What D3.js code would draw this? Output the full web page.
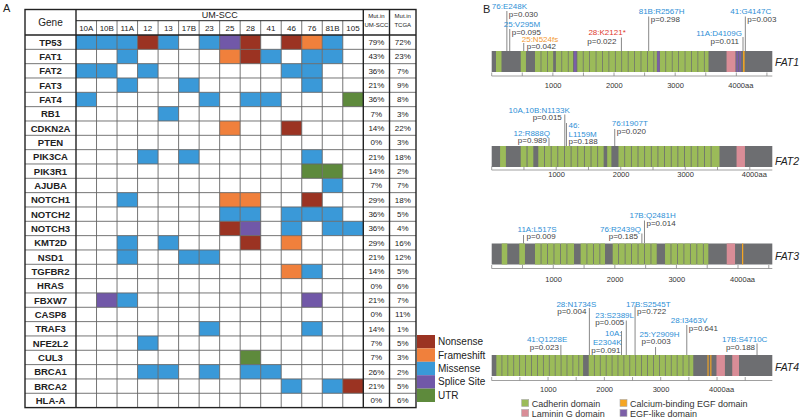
<!DOCTYPE html>
<html><head><meta charset="utf-8">
<script src="https://cdn.jsdelivr.net/npm/d3@7"></script>
<style>body{margin:0;background:#fff}svg{display:block;font-family:"Liberation Sans",Arial,sans-serif}</style>
</head><body><svg id="c" width="800" height="419"></svg>
<script>
// ---------------- DATA ----------------
const samples = ["10A","10B","11A","12","13","17B","23","25","28","41","46","76","81B","105"];
const genes = ["TP53","FAT1","FAT2","FAT3","FAT4","RB1","CDKN2A","PTEN","PIK3CA","PIK3R1","AJUBA","NOTCH1","NOTCH2","NOTCH3","KMT2D","NSD1","TGFBR2","HRAS","FBXW7","CASP8","TRAF3","NFE2L2","CUL3","BRCA1","BRCA2","HLA-A"];
// one string per gene, one character per sample (N nonsense, F frameshift, M missense, S splice site, U UTR, . none)
const mutRows = [
  "MMMNM.MSN.NFM.", "..M....FNM.MM.", "MM.M......MM..", "..M..M.....M..", "M.....M.MM...U",
  "....M.........", ".......F..N...", "..............", "...M.M.....M..", "...........UU.",
  "............M.", "..M....FF..N..", ".......MM.MMM.", ".......NS.M.MM", "..M.M...N.F...",
  "..M..MM.......", "..........FM..", "..............", ".SM........S..", "..............",
  "......M....M..", "...M..........", "........U.....", "...MM.M.MM....", "..........M.MN",
  ".............."
];
const pctUMSCC = ["79%","43%","36%","21%","36%","7%","14%","0%","21%","14%","7%","29%","36%","36%","29%","21%","14%","0%","21%","0%","14%","7%","7%","26%","21%","0%"];
const pctTCGA  = ["72%","23%","7%","9%","8%","3%","22%","3%","18%","2%","7%","18%","5%","4%","16%","12%","5%","6%","7%","11%","1%","5%","3%","2%","5%","6%"];
const mutCodes = ["N","F","M","S","U"];
const mutNames = ["Nonsense","Frameshift","Missense","Splice Site","UTR"];

const proteins = ["FAT1","FAT2","FAT3","FAT4"];
const proteinLength = [4588, 4349, 4557, 4981];
const cadherin = [
  [[70,160],[475,560],[708,800],[812,905],[917,1005],[1050,1140],[1152,1245],[1257,1330],[1400,1490],[1502,1595],[1607,1700],[1712,1805],[1817,1910],[1922,2015],[2027,2120],[2132,2225],[2237,2330],[2342,2435],[2447,2540],[2552,2645],[2657,2700],[2750,2840],[2852,2945],[2957,3050],[3062,3155],[3167,3260],[3272,3365],[3377,3470],[3482,3545]],
  [[130,220],[450,540],[555,645],[722,812],[825,915],[928,1018],[1031,1121],[1134,1224],[1237,1327],[1340,1430],[1443,1533],[1546,1636],[1649,1735],[1790,1855],[1965,2055],[2068,2158],[2171,2261],[2274,2364],[2377,2467],[2480,2570],[2583,2673],[2686,2776],[2789,2879],[2892,2982],[2995,3085],[3098,3188],[3201,3291],[3304,3394],[3407,3530]],
  [[163,253],[448,540],[703,795],[808,900],[913,1005],[1018,1110],[1123,1215],[1228,1337],[1445,1540],[1553,1645],[1658,1750],[1763,1840],[1965,2055],[2068,2160],[2173,2265],[2278,2370],[2383,2475],[2488,2580],[2593,2680],[2815,2905],[2918,3010],[3023,3115],[3128,3220],[3233,3325],[3338,3430],[3443,3518]],
  [[82,175],[188,280],[293,385],[398,490],[503,595],[608,700],[713,805],[818,910],[923,1015],[1028,1120],[1133,1225],[1238,1330],[1343,1435],[1448,1540],[1553,1622],[1722,1815],[1828,1920],[1933,2025],[2038,2130],[2143,2235],[2248,2340],[2353,2445],[2458,2550],[2563,2655],[2668,2760],[2773,2865],[2878,2970],[2983,3075],[3088,3180],[3193,3285],[3298,3390],[3403,3495],[3508,3578]]
];
const laminin = [[[3840,3985]], [[3795,3925]], [[3817,3952]], [[3990,4140],[4270,4390]]];
const egfLike = [[[1345,1385],[2705,2745],[4000,4030],[4045,4075]], [], [], []];
const caEgf = [[[4110,4135]], [], [[4065,4085]], [[3830,3850],[3880,3900]]];
const domainNames = ["Cadherin domain","Calcium-binding EGF domain","Laminin G domain","EGF-like domain"];

const variants = [
  [{label:"76:E248K",aa:248,p:"0.030",type:"M"},{label:"25:V295M",aa:295,p:"0.095",type:"M"},{label:"25:N524fs",aa:524,p:"0.042",type:"F"},{label:"28:K2121*",aa:2121,p:"0.022",type:"N"},{label:"81B:R2567H",aa:2567,p:"0.298",type:"M"},{label:"11A:D4109G",aa:4109,p:"0.011",type:"M"},{label:"41:G4147C",aa:4147,p:"0.003",type:"M"}],
  [{label:"10A,10B:N1133K",aa:1133,p:"0.015",type:"M"},{label:"12:R888Q",aa:888,p:"0.989",type:"M"},{label:"46:\nL1159M",aa:1159,p:"0.188",type:"M"},{label:"76:I1907T",aa:1907,p:"0.020",type:"M"}],
  [{label:"11A:L517S",aa:517,p:"0.009",type:"M"},{label:"76:R2439Q",aa:2439,p:"0.185",type:"M"},{label:"17B:Q2481H",aa:2481,p:"0.014",type:"M"}],
  [{label:"41:Q1228E",aa:1228,p:"0.023",type:"M"},{label:"28:N1734S",aa:1734,p:"0.004",type:"M"},{label:"23:S2389L",aa:2389,p:"0.005",type:"M"},{label:"10A:\nE2304K",aa:2304,p:"0.091",type:"M"},{label:"17B:S2545T",aa:2545,p:"0.722",type:"M"},{label:"25:Y2909H",aa:2909,p:"0.003",type:"M"},{label:"28:I3463V",aa:3463,p:"0.641",type:"M"},{label:"17B:S4710C",aa:4710,p:"0.188",type:"M"}]
];
const tickValues = [500,1000,1500,2000,2500,3000,3500,4000,4500];
const tickLabels = {1000:"1000",2000:"2000",3000:"3000",4000:"4000aa"};

// ---------------- LAYOUT / STYLE ----------------
// label layout per variant: [mutAnchor, mutDx, mutBaseline, pAnchor, pDx, pBaseline, lineTop]
const variantLayout = [
  [["start",-15,8.5,"start",2,16.5,11],["start",-6,27.3,"start",2,34.5,29],["start",-2,41.5,"start",3,48.5,43],["start",-33,35,"end",-5,44,37.5],["start",-10,14,"start",2,21.5,16.5],["end",-1,35.5,"end",-4,44,37],["start",-15,14,"start",2,21.5,16.5]],
  [["end",5,112.7,"end",-3,120,114.5],["end",1,136,"end",-2,143.3,138],["start",2,136.5,"start",2,143.5,123],["start",-3,126,"start",2,134,129]],
  [["start",-6,231.7,"start",3,239.3,235],["end",-1,231.7,"end",-4,239.3,233.5],["start",-15,217.7,"start",2,226,220.5]],
  [["start",-34,341.7,"end",-2,350,345],["start",-33,306.7,"end",-3,314.3,308],["start",-31,318.3,"end",-2,325.3,320.5],["end",0,345,"end",-1,352.7,331],["start",-9,306.7,"start",2,314.3,305.5],["start",-16,336.7,"start",-14,344.3,347],["start",-16,323.3,"start",2,331,325],["start",-35,341.7,"end",-2,350,343.5]]
];
const barTop = [51, 146, 243.5, 355];
const barH = 21;
const axisY = [76, 170, 268.5, 380.5];
const tickLabelY = [87.5, 177, 281.5, 391.5];
const nameY = [66, 164.5, 259.5, 370.5];

const colorMut = {N:"#9b3322",F:"#f0803c",M:"#3a99d8",S:"#7158a8",U:"#5e8a3c"};
const colorTxt = {N:"#e03a2e",F:"#f39a33",M:"#2e8fd6"};
const domainColors = ["#9bbb59","#f5a623","#d98d97","#7b5ea7"];

const svg = d3.select("#c");

// ---------------- PANEL A: table ----------------
const tL = 25, gR = 76, sR = 363.3, uR = 389.5, tR = 416;
const hTop = 9.5, hMid = 20.7, hBot = 35, tBot = 407.6;
const x = d3.scaleBand().domain(samples).range([gR, sR]);
const y = d3.scaleBand().domain(genes).range([hBot, tBot]);

svg.append("text").attr("x",3).attr("y",12).attr("font-size",11).attr("fill","#222").text("A");

// colored cells
const cells = [];
genes.forEach((g,i)=>{ samples.forEach((s,j)=>{ const c = mutRows[i][j]; if (c !== ".") cells.push({g,s,c}); }); });
svg.append("g").selectAll("rect").data(cells).join("rect")
  .attr("x",d=>x(d.s)).attr("y",d=>y(d.g)).attr("width",x.bandwidth()).attr("height",y.bandwidth())
  .attr("fill",d=>colorMut[d.c]);

// grid lines
const grid = svg.append("g").attr("stroke","#666").attr("stroke-width",0.9);
samples.forEach((s,j)=>{ if (j>0) grid.append("line").attr("x1",x(s)).attr("x2",x(s)).attr("y1",hMid).attr("y2",tBot); });
genes.forEach((g,i)=>{ if (i>0) grid.append("line").attr("x1",tL).attr("x2",tR).attr("y1",y(g)).attr("y2",y(g)); });
const thick = svg.append("g").attr("stroke","#222").attr("stroke-width",1.4).attr("fill","none");
thick.append("rect").attr("x",tL).attr("y",hTop).attr("width",tR-tL).attr("height",tBot-hTop);
[gR, sR, uR].forEach(v=>thick.append("line").attr("x1",v).attr("x2",v).attr("y1",hTop).attr("y2",tBot));
thick.append("line").attr("x1",tL).attr("x2",tR).attr("y1",hBot).attr("y2",hBot);
thick.append("line").attr("x1",gR).attr("x2",sR).attr("y1",hMid).attr("y2",hMid).attr("stroke-width",1);

// header text
svg.append("text").attr("x",(tL+gR)/2).attr("y",26).attr("text-anchor","middle").attr("font-size",10).attr("fill","#222").text("Gene");
svg.append("text").attr("x",(gR+sR)/2).attr("y",18.3).attr("text-anchor","middle").attr("font-size",9).attr("fill","#222").text("UM-SCC");
svg.append("g").selectAll("text").data(samples).join("text")
  .attr("x",d=>x(d)+x.bandwidth()/2).attr("y",31).attr("text-anchor","middle").attr("font-size",8).attr("fill","#222").text(d=>d);
[[ (sR+uR)/2, "Mut.in", "UM-SCC"], [(uR+tR)/2, "Mut.in", "TCGA"]].forEach(h=>{
  svg.append("text").attr("x",h[0]).attr("y",18).attr("text-anchor","middle").attr("font-size",6).attr("fill","#222").text(h[1]);
  svg.append("text").attr("x",h[0]).attr("y",27).attr("text-anchor","middle").attr("font-size",6).attr("fill","#222").text(h[2]);
});
svg.append("g").selectAll("text").data(genes).join("text")
  .attr("x",(tL+gR)/2).attr("y",d=>y(d)+y.bandwidth()/2+3.5).attr("text-anchor","middle")
  .attr("font-size",9.5).attr("font-weight","bold").attr("fill","#222").text(d=>d);
svg.append("g").selectAll("text").data(pctUMSCC).join("text")
  .attr("x",(sR+uR)/2).attr("y",(d,i)=>y(genes[i])+y.bandwidth()/2+3).attr("text-anchor","middle")
  .attr("font-size",8).attr("fill","#222").text(d=>d);
svg.append("g").selectAll("text").data(pctTCGA).join("text")
  .attr("x",(uR+tR)/2).attr("y",(d,i)=>y(genes[i])+y.bandwidth()/2+3).attr("text-anchor","middle")
  .attr("font-size",8).attr("fill","#222").text(d=>d);

// legend A
const ly = d3.scaleBand().domain(mutNames).range([335, 402]);
const lg = svg.append("g");
lg.selectAll("rect").data(mutNames).join("rect")
  .attr("x",417).attr("y",d=>ly(d)).attr("width",18).attr("height",ly.bandwidth()).attr("fill",(d,i)=>colorMut[mutCodes[i]]);
lg.selectAll("text").data(mutNames).join("text")
  .attr("x",438).attr("y",d=>ly(d)+ly.bandwidth()/2+3.5).attr("font-size",10).attr("fill","#222").text(d=>d);

// ---------------- PANEL B: proteins ----------------
svg.append("text").attr("x",483).attr("y",13).attr("font-size",11).attr("fill","#222").text("B");

proteins.forEach((name,k)=>{
  const px = d3.scaleLinear().domain([0, proteinLength[k]]).range([491.7, 772.3]);
  const g = svg.append("g");
  const top = barTop[k];
  g.append("rect").attr("x",px(0)).attr("y",top).attr("width",px(proteinLength[k])-px(0)).attr("height",barH).attr("fill","#6d6e71");
  const drawDom = (arr,col)=> g.append("g").selectAll("rect").data(arr).join("rect")
    .attr("x",d=>px(d[0])).attr("y",top).attr("width",d=>Math.max(1,px(d[1])-px(d[0]))).attr("height",barH).attr("fill",col);
  drawDom(cadherin[k], domainColors[0]);
  drawDom(laminin[k], domainColors[2]);
  drawDom(egfLike[k], domainColors[3]);
  drawDom(caEgf[k], domainColors[1]);
  // axis
  const ay = axisY[k];
  g.append("line").attr("x1",px(0)).attr("x2",px(proteinLength[k])).attr("y1",ay).attr("y2",ay).attr("stroke","#888").attr("stroke-width",0.8);
  g.append("g").selectAll("line").data([0].concat(tickValues.filter(t=>t<proteinLength[k]))).join("line")
    .attr("x1",d=>px(d)).attr("x2",d=>px(d)).attr("y1",ay-3.5).attr("y2",ay).attr("stroke","#888").attr("stroke-width",0.8);
  g.append("g").selectAll("text").data(Object.keys(tickLabels).map(Number)).join("text")
    .attr("x",d=>px(d)-8).attr("y",tickLabelY[k]).attr("font-size",7.5).attr("fill","#333").text(d=>tickLabels[d]);
  g.append("text").attr("x",775).attr("y",nameY[k]).attr("font-size",10.5).attr("font-style","italic").attr("fill","#222").text(name);
  // variants
  variants[k].forEach((v,i)=>{
    const L = variantLayout[k][i];
    const lx = px(v.aa);
    g.append("line").attr("x1",lx).attr("x2",lx).attr("y1",L[6]).attr("y2",top).attr("stroke","#888").attr("stroke-width",1);
    const lines = v.label.split("\n");
    const t = g.append("text").attr("font-size",8).attr("fill",colorTxt[v.type]).attr("text-anchor",L[0]);
    lines.forEach((ln,j)=>{
      t.append("tspan").attr("x",lx+L[1]).attr("y",L[2]-(lines.length-1-j)*9).text(ln);
    });
    g.append("text").attr("x",lx+L[4]).attr("y",L[5]).attr("text-anchor",L[3]).attr("font-size",8).attr("fill","#444").text("p="+v.p);
  });
});

// domain legend
const dl = svg.append("g");
const dlx = [521.7, 620], dly = [399.5, 409.5];
domainNames.forEach((n,i)=>{
  const cx = dlx[i%2], cy = dly[Math.floor(i/2)];
  dl.append("rect").attr("x",cx).attr("y",cy).attr("width",7).attr("height",7).attr("fill",domainColors[i]).attr("stroke","#aaa").attr("stroke-width",0.6);
  dl.append("text").attr("x",cx+10).attr("y",cy+7).attr("font-size",9).attr("fill","#333").text(n);
});
</script></body></html>
